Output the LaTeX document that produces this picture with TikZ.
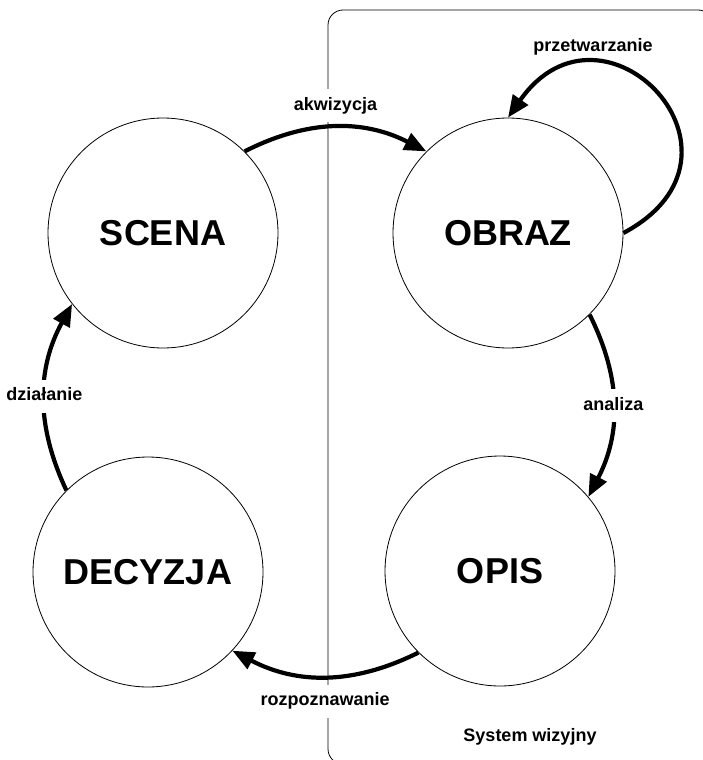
\documentclass[tikz,border=0pt]{standalone}
\usepackage{fontspec}
\setmainfont{Liberation Sans}
\usetikzlibrary{arrows.meta}
\definecolor{vis-ink}{HTML}{000000}

\tikzset{
  vstate/.style={circle, draw=vis-ink, line width=0.8pt, minimum size=230pt,
    inner sep=0pt, font=\bfseries\fontsize{36}{40}\selectfont, text=vis-ink},
  flow/.style={draw=vis-ink, line width=4.2pt, -{Triangle[length=22pt, width=18pt]}},
  flowlabel/.style={font=\bfseries\fontsize{18}{20}\selectfont, text=vis-ink,
    fill=white, inner sep=8pt, text height=13pt, text depth=4pt},
}

\begin{document}
\begin{tikzpicture}[x=1pt, y=1pt]
    \useasboundingbox (0,0) rectangle (703,-760);
    \clip (0,0) rectangle (703,-760);
    % vision system frame
    \draw[vis-ink, line width=0.8pt, rounded corners=15pt] (328,-10) rectangle (713,-764);
    \node[flowlabel, fill=none] (syslbl) at (530,-737) {System wizyjny};

    \node[vstate] (scena) at (163,-233) {SCENA};
    \node[vstate] (obraz) at (508,-233) {OBRAZ};
    \node[vstate] (opis) at (500,-571) {OPIS};
    \node[vstate] (decyzja) at (148,-572) {DECYZJA};

    \draw[flow] (scena.45) to[bend left=27]
        node[midway, above=3pt, flowlabel] {akwizycja} (obraz.135);
    \draw[flow] (obraz.east) to[out=28, in=55, looseness=2.6] (obraz.north);
    \node[flowlabel, fill=none] (proclbl) at (593,-47) {przetwarzanie};
    \draw[flow] (obraz.-45) to[bend left=27]
        node[midway, flowlabel] {analiza} (opis.40);
    \draw[flow] (opis.225) to[bend left=27]
        node[midway, below=6pt, flowlabel] {rozpoznawanie} (decyzja.-43);
    \draw[flow] (decyzja.135) to[bend left=27]
        node[midway, flowlabel] {działanie} (scena.218);
\end{tikzpicture}
\end{document}
